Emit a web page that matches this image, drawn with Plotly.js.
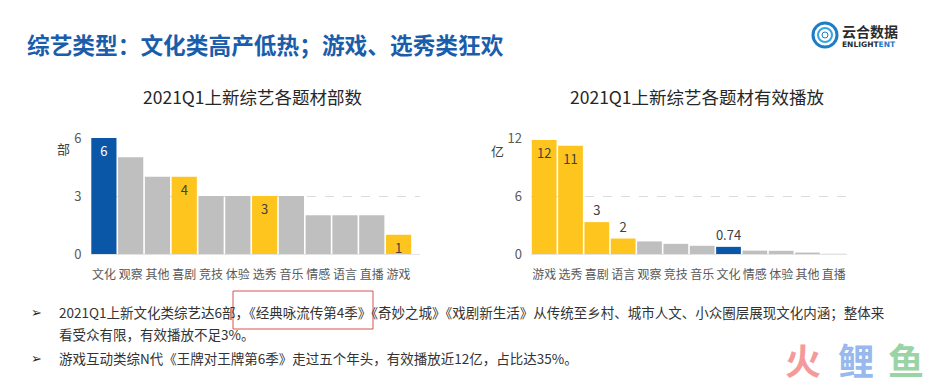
<!DOCTYPE html>
<html>
<head>
<meta charset="utf-8">
<script src="https://cdn.plot.ly/plotly-3.0.1.min.js"></script>
<style>html,body{margin:0;padding:0;background:#fff;}#chart{width:952px;height:385px;}</style>
</head>
<body>
<div id="chart"></div>
<script>
// ---- Data ----
const countCategories = ['文化','观察','其他','喜剧','竞技','体验','选秀','音乐','情感','语言','直播','游戏'];
const countValues     = [6, 5, 4, 4, 3, 3, 3, 3, 2, 2, 2, 1];
const countLabels     = ['6','','','4','','','3','','','','','1'];
const countColorKeys  = ['blue','gray','gray','yellow','gray','gray','yellow','gray','gray','gray','gray','yellow'];

const playCategories = ['游戏','选秀','喜剧','语言','观察','竞技','音乐','文化','情感','体验','其他','直播'];
const playValues     = [11.8, 11.2, 3.3, 1.6, 1.3, 1.05, 0.85, 0.74, 0.35, 0.33, 0.15, 0.02];
const playLabels     = ['12','11','3','2','','','','0.74','','','',''];
const playColorKeys  = ['yellow','yellow','yellow','yellow','gray','gray','gray','blue','gray','gray','gray','gray'];

const countTicks = [0, 3, 6];
const playTicks  = [0, 6, 12];

// ---- Styles ----
const palette = {blue:'#0A57A7', gray:'#BFBFBF', yellow:'#FFC51F'};
const FONT = '"Noto Sans CJK SC", "Microsoft YaHei", sans-serif';
const W = 952, H = 385;
const px = x => x / W;
const py = y => 1 - y / H;

const trace1 = {
  type:'bar', x: countCategories, y: countValues, xaxis:'x', yaxis:'y',
  marker:{color: countColorKeys.map(k => palette[k]), line:{width:0}},
  text: countLabels, textposition:'inside', insidetextanchor:'end', textangle:0,
  constraintext:'none', cliponaxis:false,
  textfont:{family:FONT, size:13, color: countColorKeys.map(k => k==='blue' ? '#FFFFFF' : '#404040')},
  hoverinfo:'x+y'
};
const trace2 = {
  type:'bar', x: playCategories, y: playValues, xaxis:'x2', yaxis:'y2',
  marker:{color: playColorKeys.map(k => palette[k]), line:{width:0}},
  text: playLabels, textangle:0,
  textposition: playValues.map(v => v > 6 ? 'inside' : 'outside'),
  insidetextanchor:'end', constraintext:'none', cliponaxis:false,
  textfont:{family:FONT, size:13, color:'#404040'},
  hoverinfo:'x+y'
};

const xCommon = {
  type:'category', showgrid:false, zeroline:false, ticks:'', showline:true,
  linecolor:'#E3E3E3', linewidth:1,
  tickfont:{family:FONT, size:12, color:'#595959'}, ticklabelstandoff:10, fixedrange:true
};
const yCommon = {
  showgrid:true, gridcolor:'#DCDCDC', griddash:'dash', gridwidth:1, zeroline:false,
  showline:false, ticks:'', tickfont:{family:FONT, size:13, color:'#595959'},
  ticklabelstandoff:8, fixedrange:true
};

const layout = {
  width: W, height: H,
  margin:{l:0, r:0, t:0, b:0},
  paper_bgcolor:'#FFFFFF', plot_bgcolor:'rgba(0,0,0,0)',
  showlegend:false, bargap:0.06,
  font:{family:FONT, color:'#333'},
  xaxis: Object.assign({}, xCommon, {domain:[px(90.5), px(420)], range:[-0.5, 11.8], anchor:'y'}),
  yaxis: Object.assign({}, yCommon, {domain:[py(254), py(138)], range:[0, 6], tickvals: countTicks, anchor:'x'}),
  xaxis2: Object.assign({}, xCommon, {domain:[px(531), px(847)], range:[-0.5, 11.5], anchor:'y2'}),
  yaxis2: Object.assign({}, yCommon, {domain:[py(254), py(138)], range:[0, 12], tickvals: playTicks, anchor:'x2'}),
  annotations: [
    {xref:'paper', yref:'paper', x:px(25), y:py(44), xanchor:'left', yanchor:'middle', showarrow:false,
     text:'<b>综艺类型：文化类高产低热；游戏、选秀类狂欢</b>', font:{family:FONT, size:22.7, color:'#1A5DAB'}},
    {xref:'paper', yref:'paper', x:px(252), y:py(97), xanchor:'center', yanchor:'middle', showarrow:false,
     text:'2021Q1上新综艺各题材部数', font:{family:FONT, size:17.5, color:'#262626'}},
    {xref:'paper', yref:'paper', x:px(697), y:py(97), xanchor:'center', yanchor:'middle', showarrow:false,
     text:'2021Q1上新综艺各题材有效播放', font:{family:FONT, size:17.5, color:'#262626'}},
    {xref:'paper', yref:'paper', x:px(63), y:py(148), xanchor:'center', yanchor:'middle', showarrow:false,
     text:'部', font:{family:FONT, size:13, color:'#404040'}},
    {xref:'paper', yref:'paper', x:px(497), y:py(150), xanchor:'center', yanchor:'middle', showarrow:false,
     text:'亿', font:{family:FONT, size:13, color:'#404040'}},
    // logo text
    {xref:'paper', yref:'paper', x:px(840), y:py(31), xanchor:'left', yanchor:'middle', showarrow:false,
     text:'<b>云合数据</b>', font:{family:FONT, size:14, color:'#2B2B2B'}},
    {xref:'paper', yref:'paper', x:px(840), y:py(44), xanchor:'left', yanchor:'middle', showarrow:false,
     text:'<b>ENLIGHT<span style="color:#1C7CC6">ENT</span></b>', font:{family:'"DejaVu Sans", sans-serif', size:7.5, color:'#2B2B2B'}},
    // bullets & text
    {xref:'paper', yref:'paper', x:px(36), y:py(312), xanchor:'center', yanchor:'middle', showarrow:false,
     text:'➢', font:{family:'"DejaVu Sans", sans-serif', size:13, color:'#222'}},
    {xref:'paper', yref:'paper', x:px(57), y:py(312), xanchor:'left', yanchor:'middle', showarrow:false,
     text:'2021Q1上新文化类综艺达6部，《经典咏流传第4季》《奇妙之城》《戏剧新生活》从传统至乡村、城市人文、小众圈层展现文化内涵；整体来',
     font:{family:FONT, size:13.5, color:'#333'}},
    {xref:'paper', yref:'paper', x:px(57), y:py(334), xanchor:'left', yanchor:'middle', showarrow:false,
     text:'看受众有限，有效播放不足3%。', font:{family:FONT, size:13.5, color:'#333'}},
    {xref:'paper', yref:'paper', x:px(36), y:py(358), xanchor:'center', yanchor:'middle', showarrow:false,
     text:'➢', font:{family:'"DejaVu Sans", sans-serif', size:13, color:'#222'}},
    {xref:'paper', yref:'paper', x:px(57), y:py(358), xanchor:'left', yanchor:'middle', showarrow:false,
     text:'游戏互动类综N代《王牌对王牌第6季》走过五个年头，有效播放近12亿，占比达35%。',
     font:{family:FONT, size:13.5, color:'#333'}},
    // watermark
    {xref:'paper', yref:'paper', x:px(803), y:py(359), xanchor:'center', yanchor:'middle', showarrow:false,
     text:'<b>火</b>', font:{family:FONT, size:36, color:'#F59A9A'}},
    {xref:'paper', yref:'paper', x:px(856), y:py(359), xanchor:'center', yanchor:'middle', showarrow:false,
     text:'<b>鲤</b>', font:{family:FONT, size:36, color:'#98B9EE'}},
    {xref:'paper', yref:'paper', x:px(906), y:py(359), xanchor:'center', yanchor:'middle', showarrow:false,
     text:'<b>鱼</b>', font:{family:FONT, size:36, color:'#9AD4A6'}}
  ],
  shapes: [
    // red highlight box
    {type:'rect', xref:'paper', yref:'paper', x0:px(233), x1:px(373), y0:py(291), y1:py(329),
     line:{color:'#D9534F', width:1}, fillcolor:'rgba(0,0,0,0)'},
    // logo rings
    {type:'circle', xref:'paper', yref:'paper', x0:px(813), x1:px(837), y0:py(47), y1:py(23),
     line:{color:'#1C7CC6', width:3}, fillcolor:'rgba(0,0,0,0)'},
    {type:'circle', xref:'paper', yref:'paper', x0:px(818), x1:px(832), y0:py(42), y1:py(28),
     line:{color:'#35A7E0', width:2}, fillcolor:'rgba(0,0,0,0)'},
    {type:'circle', xref:'paper', yref:'paper', x0:px(822), x1:px(828), y0:py(38), y1:py(32),
     line:{color:'#1C7CC6', width:1}, fillcolor:'#FFFFFF'}
  ]
};

Plotly.newPlot('chart', [trace1, trace2], layout, {displayModeBar:false, staticPlot:true});
</script>
</body>
</html>
